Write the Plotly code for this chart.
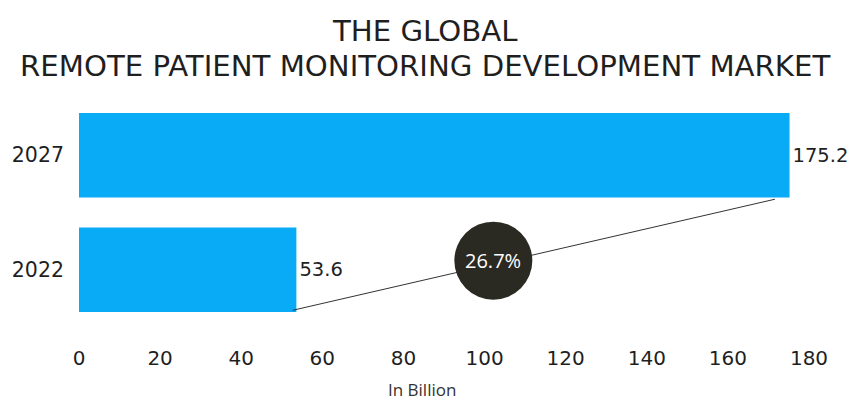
import plotly.graph_objects as go

years = ["2022", "2027"]
values = [53.6, 175.2]
value_labels = ["53.6", "175.2"]
cagr_label = "26.7%"
tick_vals = [0, 20, 40, 60, 80, 100, 120, 140, 160, 180]
title_lines = ["THE GLOBAL", "REMOTE PATIENT MONITORING DEVELOPMENT MARKET"]
x_title = "In Billion"

BAR = "#09aaf6"
DARK = "#1f1f1f"
FONT = "DejaVu Sans"
LIGHT = "Open Sans"

W, H = 850, 410
ML, MR = 79, 41
PLOT_TOP, PLOT_H = 98, 229
PLOT_W = W - ML - MR

fig = go.Figure()
fig.add_trace(go.Bar(
    y=years, x=values, orientation="h",
    marker=dict(color=BAR, line=dict(width=0)),
    width=0.74,
    text=value_labels, textposition="outside",
    textfont=dict(family=FONT, size=19.5, color=DARK),
    cliponaxis=False, hoverinfo="skip",
))

# growth line from the end of the 2022 bar to the end of the 2027 bar
lx0, ly0 = values[0] - 0.9, -0.354
lx1, ly1 = values[1] - 3.6, 0.616
fig.add_shape(type="line", x0=lx0, y0=ly0, x1=lx1, y1=ly1,
              xref="x", yref="y", line=dict(color="#333333", width=1))
t = 0.416
cx = lx0 + t * (lx1 - lx0)
cy = ly0 + t * (ly1 - ly0) + 0.03
r = 39
fig.add_shape(type="circle", xref="x", yref="y",
              xsizemode="pixel", ysizemode="pixel",
              xanchor=cx, yanchor=cy, x0=-r, x1=r, y0=-r, y1=r,
              fillcolor="#2a2a23", line=dict(color="#2a2a23", width=0))
fig.add_annotation(x=cx, y=cy, xref="x", yref="y", text=cagr_label,
                   showarrow=False, font=dict(family=LIGHT, size=20, color="white"))

# title lines, centred on the page
title_x = (W / 2 - ML) / PLOT_W
for txt, ypx in zip(title_lines, [31, 66]):
    fig.add_annotation(text=txt, xref="paper", yref="paper", x=title_x,
                       y=1 + (PLOT_TOP - ypx) / PLOT_H, xanchor="center",
                       yanchor="middle", showarrow=False,
                       font=dict(family=FONT, size=29.2, color=DARK))
fig.add_annotation(text=x_title, xref="x", yref="paper", x=84.5,
                   y=1 + (PLOT_TOP - 389) / PLOT_H, xanchor="center",
                   yanchor="middle", showarrow=False,
                   font=dict(family=LIGHT, size=17, color="#333333"))

fig.update_layout(
    width=W, height=H,
    margin=dict(l=ML, r=MR, t=PLOT_TOP, b=H - PLOT_TOP - PLOT_H),
    paper_bgcolor="white", plot_bgcolor="white",
    showlegend=False,
    xaxis=dict(range=[0, 180], tickvals=tick_vals, showgrid=False, zeroline=False,
               showline=False, ticks="", ticklabelstandoff=17, automargin=False,
               tickfont=dict(family=FONT, size=20, color=DARK)),
    yaxis=dict(range=[-0.5, 1.5], showgrid=False, zeroline=False, showline=False,
               ticks="", ticklabelstandoff=14, automargin=False,
               tickfont=dict(family=FONT, size=20.5, color=DARK)),
)

fig.write_html("out.html", config={"displayModeBar": False, "staticPlot": True},
               post_script="document.body.style.margin='0';document.body.style.overflow='hidden';")
